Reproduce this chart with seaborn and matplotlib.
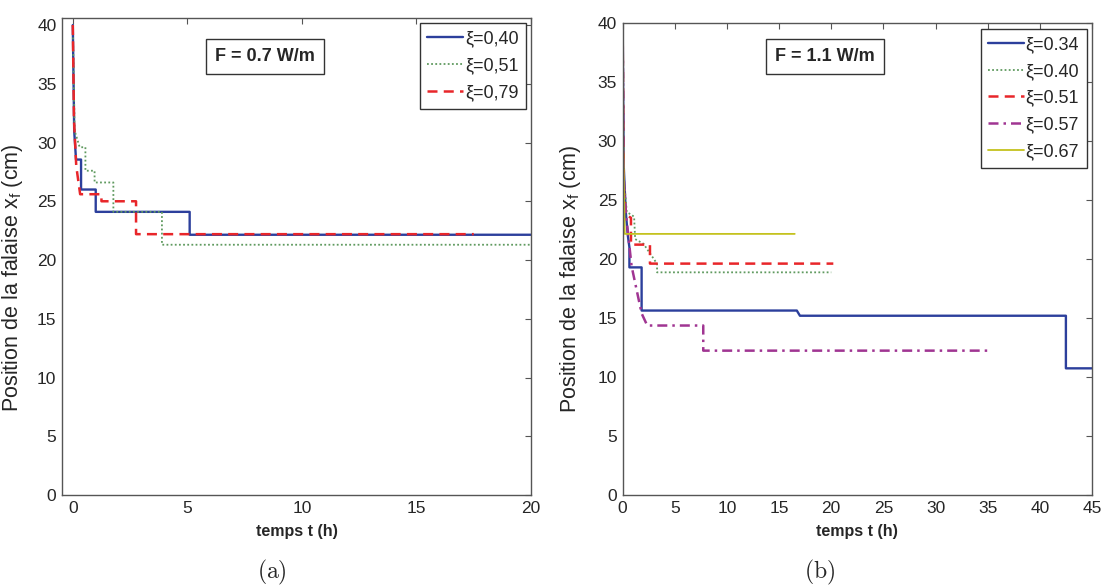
import numpy as np
import pandas as pd
import matplotlib
matplotlib.use("Agg")
import matplotlib.pyplot as plt
import seaborn as sns

# ---------------- data: panel (a) F = 0.7 W/m ----------------
a_labels = ["ξ=0,40", "ξ=0,51", "ξ=0,79"]
a_t_040 = [0, 0.06, 0.14, 0.36, 0.36, 1.0, 1.0, 5.1, 5.1, 20]
a_x_040 = [40, 31, 28.55, 28.55, 26.0, 26.0, 24.1, 24.1, 22.15, 22.15]
a_t_051 = [0, 0.08, 0.3, 0.55, 0.55, 0.95, 0.95, 1.77, 1.77, 3.89, 3.89, 20]
a_x_051 = [40, 31, 29.6, 29.6, 27.6, 27.6, 26.6, 26.6, 24.1, 24.1, 21.3, 21.3]
a_t_079 = [0, 0.05, 0.15, 0.32, 1.25, 1.25, 2.76, 2.76, 17.5]
a_x_079 = [40, 32, 28, 25.6, 25.6, 25.0, 25.0, 22.2, 22.2]

# ---------------- data: panel (b) F = 1.1 W/m ----------------
b_labels = ["ξ=0.34", "ξ=0.40", "ξ=0.51", "ξ=0.57", "ξ=0.67"]
b_t_034 = [0, 0.1, 0.3, 0.5, 0.65, 0.65, 1.82, 1.82, 16.7, 17.0, 42.5, 42.5, 45]
b_x_034 = [40, 28, 24, 22, 21, 19.3, 19.3, 15.64, 15.64, 15.2, 15.2, 10.74, 10.74]
b_t_040 = [0, 0.1, 0.4, 1.1, 1.2, 2.0, 3.0, 3.3, 3.3, 20.0]
b_x_040 = [40, 27, 24, 23.6, 21.7, 21.3, 20.0, 19.6, 18.88, 18.88]
b_t_051 = [0, 0.1, 0.3, 0.8, 0.8, 2.62, 2.62, 20.2]
b_x_051 = [40, 26, 23.8, 23.5, 21.23, 21.23, 19.62, 19.62]
b_t_057 = [0, 0.1, 0.3, 0.6, 0.86, 1.82, 2.36, 7.73, 7.73, 35.4]
b_x_057 = [40, 27, 24, 21.5, 19.4, 15.4, 14.37, 14.37, 12.24, 12.24]
b_t_067 = [0, 0.05, 0.2, 16.5]
b_x_067 = [40, 30, 22.14, 22.14]

y_ticks = [0, 5, 10, 15, 20, 25, 30, 35, 40]
a_xticks = [0, 5, 10, 15, 20]
b_xticks = [0, 5, 10, 15, 20, 25, 30, 35, 40, 45]

# ---------------- styles ----------------
BLUE = "#2c3f9c"
GREEN = "#5f9a5f"
RED = "#e8262a"
PURPLE = "#a03592"
YELLOW = "#c4c21e"

sns.set_style("white")
plt.rcParams["font.family"] = ["Liberation Sans", "DejaVu Sans"]
plt.rcParams["mathtext.fontset"] = "cm"

fig = plt.figure(figsize=(11.02, 5.86), dpi=100)
ax_a = fig.add_axes([0.0563, 0.1553, 0.4256, 0.814])
ax_b = fig.add_axes([0.565, 0.1553, 0.4259, 0.805])


def draw(ax, t, x, label, color, ls, lw):
    df = pd.DataFrame({"t": t, "x": x})
    sns.lineplot(data=df, x="t", y="x", ax=ax, sort=False, estimator=None,
                 color=color, linestyle=ls, linewidth=lw, label=label)


draw(ax_a, a_t_040, a_x_040, a_labels[0], BLUE, "-", 1.7)
draw(ax_a, a_t_051, a_x_051, a_labels[1], GREEN, (0, (1, 1.3)), 1.3)
draw(ax_a, a_t_079, a_x_079, a_labels[2], RED, (0, (4, 2.5)), 1.8)

draw(ax_b, b_t_034, b_x_034, b_labels[0], BLUE, "-", 1.7)
draw(ax_b, b_t_040, b_x_040, b_labels[1], GREEN, (0, (1, 1.3)), 1.3)
draw(ax_b, b_t_051, b_x_051, b_labels[2], RED, (0, (4, 2.5)), 1.8)
draw(ax_b, b_t_057, b_x_057, b_labels[3], PURPLE, (0, (4, 2, 1, 2)), 1.8)
draw(ax_b, b_t_067, b_x_067, b_labels[4], YELLOW, "-", 1.3)

ylab = "Position de la falaise x$\\mathregular{_f}$ (cm)"
for ax, xticks, xlim, ylim, ftxt, fx, fy, lx, ly, tag, tagx in [
    (ax_a, a_xticks, (-0.47, 20), (0, 40.6), "F = 0.7 W/m", 0.433, 0.919, -0.079, 0.455, "(a)", 272),
    (ax_b, b_xticks, (0, 45), (0, 40), "F = 1.1 W/m", 0.431, 0.9295, -0.085, 0.459, "(b)", 820),
]:
    ax.set_xlim(*xlim)
    ax.set_ylim(*ylim)
    ax.set_xticks(xticks)
    ax.set_yticks(y_ticks)
    ax.tick_params(direction="in", length=4, width=0.8, color="#555555",
                   top=True, right=True, labelsize=12.5, pad=4)
    for sp in ax.spines.values():
        sp.set_color("#555555")
        sp.set_linewidth(1.0)
        sp.set_visible(True)
    ax.set_xlabel("temps t (h)", fontsize=11.5, fontweight="bold", labelpad=6)
    ax.set_ylabel(ylab, fontsize=15.5)
    ax.yaxis.set_label_coords(lx, ly)
    ax.text(fx, fy, ftxt, transform=ax.transAxes, ha="center", va="center",
            fontsize=13, fontweight="bold",
            bbox=dict(boxstyle="square,pad=0.5", fc="white", ec="#333333", lw=1.0))
    leg = ax.legend(loc="upper right", fontsize=13, handlelength=2.0,
                    handletextpad=0.1, borderpad=0.4, labelspacing=0.55,
                    borderaxespad=0.3, fancybox=False, framealpha=1)
    leg.get_frame().set_edgecolor("#333333")
    leg.get_frame().set_linewidth(1.0)
    fig.text(tagx / 1102, 1 - 572 / 586, "$\\mathrm{" + tag + "}$", ha="center",
             va="center", fontsize=17)

fig.savefig("out.png", dpi=100, facecolor="white")
